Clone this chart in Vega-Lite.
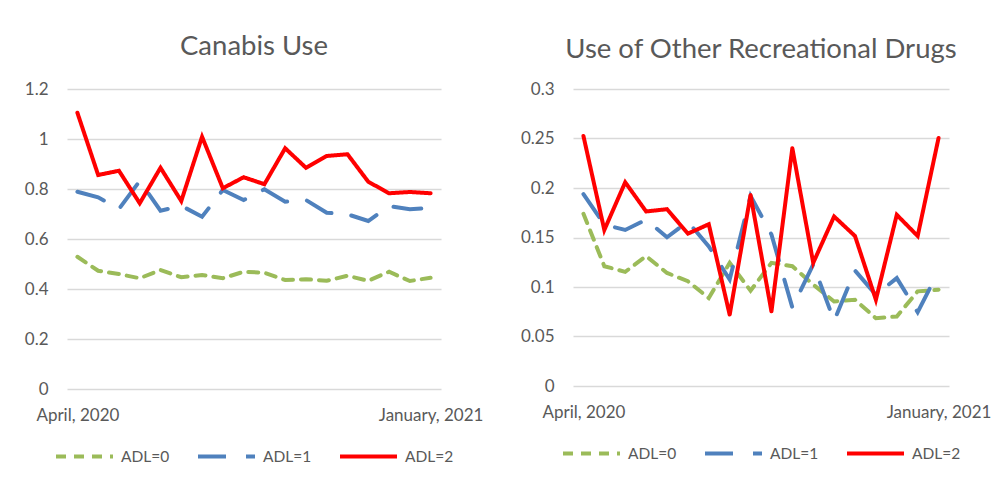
{
  "$schema": "https://vega.github.io/schema/vega-lite/v6.json",
  "background": "white",
  "padding": {"left": 24, "top": 32, "right": 5, "bottom": 0},
  "datasets": {
    "canabis": [
      {"wave": 1, "adl": "ADL=0", "value": 0.529}, {"wave": 2, "adl": "ADL=0", "value": 0.473}, {"wave": 3, "adl": "ADL=0", "value": 0.46}, {"wave": 4, "adl": "ADL=0", "value": 0.443}, {"wave": 5, "adl": "ADL=0", "value": 0.476}, {"wave": 6, "adl": "ADL=0", "value": 0.447}, {"wave": 7, "adl": "ADL=0", "value": 0.456}, {"wave": 8, "adl": "ADL=0", "value": 0.443}, {"wave": 9, "adl": "ADL=0", "value": 0.469}, {"wave": 10, "adl": "ADL=0", "value": 0.465}, {"wave": 11, "adl": "ADL=0", "value": 0.436}, {"wave": 12, "adl": "ADL=0", "value": 0.439}, {"wave": 13, "adl": "ADL=0", "value": 0.433}, {"wave": 14, "adl": "ADL=0", "value": 0.453}, {"wave": 15, "adl": "ADL=0", "value": 0.433}, {"wave": 16, "adl": "ADL=0", "value": 0.469}, {"wave": 17, "adl": "ADL=0", "value": 0.432}, {"wave": 18, "adl": "ADL=0", "value": 0.445},
      {"wave": 1, "adl": "ADL=1", "value": 0.789}, {"wave": 2, "adl": "ADL=1", "value": 0.767}, {"wave": 3, "adl": "ADL=1", "value": 0.72}, {"wave": 4, "adl": "ADL=1", "value": 0.832}, {"wave": 5, "adl": "ADL=1", "value": 0.713}, {"wave": 6, "adl": "ADL=1", "value": 0.733}, {"wave": 7, "adl": "ADL=1", "value": 0.689}, {"wave": 8, "adl": "ADL=1", "value": 0.796}, {"wave": 9, "adl": "ADL=1", "value": 0.756}, {"wave": 10, "adl": "ADL=1", "value": 0.799}, {"wave": 11, "adl": "ADL=1", "value": 0.749}, {"wave": 12, "adl": "ADL=1", "value": 0.756}, {"wave": 13, "adl": "ADL=1", "value": 0.705}, {"wave": 14, "adl": "ADL=1", "value": 0.699}, {"wave": 15, "adl": "ADL=1", "value": 0.672}, {"wave": 16, "adl": "ADL=1", "value": 0.732}, {"wave": 17, "adl": "ADL=1", "value": 0.719}, {"wave": 18, "adl": "ADL=1", "value": 0.724},
      {"wave": 1, "adl": "ADL=2", "value": 1.105}, {"wave": 2, "adl": "ADL=2", "value": 0.856}, {"wave": 3, "adl": "ADL=2", "value": 0.873}, {"wave": 4, "adl": "ADL=2", "value": 0.743}, {"wave": 5, "adl": "ADL=2", "value": 0.885}, {"wave": 6, "adl": "ADL=2", "value": 0.752}, {"wave": 7, "adl": "ADL=2", "value": 1.009}, {"wave": 8, "adl": "ADL=2", "value": 0.803}, {"wave": 9, "adl": "ADL=2", "value": 0.847}, {"wave": 10, "adl": "ADL=2", "value": 0.819}, {"wave": 11, "adl": "ADL=2", "value": 0.963}, {"wave": 12, "adl": "ADL=2", "value": 0.885}, {"wave": 13, "adl": "ADL=2", "value": 0.932}, {"wave": 14, "adl": "ADL=2", "value": 0.939}, {"wave": 15, "adl": "ADL=2", "value": 0.829}, {"wave": 16, "adl": "ADL=2", "value": 0.783}, {"wave": 17, "adl": "ADL=2", "value": 0.788}, {"wave": 18, "adl": "ADL=2", "value": 0.783}
    ],
    "other": [
      {"wave": 1, "adl": "ADL=0", "value": 0.174}, {"wave": 2, "adl": "ADL=0", "value": 0.121}, {"wave": 3, "adl": "ADL=0", "value": 0.1153}, {"wave": 4, "adl": "ADL=0", "value": 0.1312}, {"wave": 5, "adl": "ADL=0", "value": 0.1142}, {"wave": 6, "adl": "ADL=0", "value": 0.1058}, {"wave": 7, "adl": "ADL=0", "value": 0.0888}, {"wave": 8, "adl": "ADL=0", "value": 0.1244}, {"wave": 9, "adl": "ADL=0", "value": 0.0963}, {"wave": 10, "adl": "ADL=0", "value": 0.1244}, {"wave": 11, "adl": "ADL=0", "value": 0.121}, {"wave": 12, "adl": "ADL=0", "value": 0.1024}, {"wave": 13, "adl": "ADL=0", "value": 0.0854}, {"wave": 14, "adl": "ADL=0", "value": 0.0871}, {"wave": 15, "adl": "ADL=0", "value": 0.0685}, {"wave": 16, "adl": "ADL=0", "value": 0.0702}, {"wave": 17, "adl": "ADL=0", "value": 0.0956}, {"wave": 18, "adl": "ADL=0", "value": 0.0973},
      {"wave": 1, "adl": "ADL=1", "value": 0.1939}, {"wave": 2, "adl": "ADL=1", "value": 0.163}, {"wave": 3, "adl": "ADL=1", "value": 0.1576}, {"wave": 4, "adl": "ADL=1", "value": 0.168}, {"wave": 5, "adl": "ADL=1", "value": 0.1502}, {"wave": 6, "adl": "ADL=1", "value": 0.166}, {"wave": 7, "adl": "ADL=1", "value": 0.141}, {"wave": 8, "adl": "ADL=1", "value": 0.1075}, {"wave": 9, "adl": "ADL=1", "value": 0.192}, {"wave": 10, "adl": "ADL=1", "value": 0.153}, {"wave": 11, "adl": "ADL=1", "value": 0.0793}, {"wave": 12, "adl": "ADL=1", "value": 0.1227}, {"wave": 13, "adl": "ADL=1", "value": 0.0658}, {"wave": 14, "adl": "ADL=1", "value": 0.1166}, {"wave": 15, "adl": "ADL=1", "value": 0.0922}, {"wave": 16, "adl": "ADL=1", "value": 0.109}, {"wave": 17, "adl": "ADL=1", "value": 0.0746}, {"wave": 18, "adl": "ADL=1", "value": 0.116},
      {"wave": 1, "adl": "ADL=2", "value": 0.2525}, {"wave": 2, "adl": "ADL=2", "value": 0.1576}, {"wave": 3, "adl": "ADL=2", "value": 0.2058}, {"wave": 4, "adl": "ADL=2", "value": 0.1763}, {"wave": 5, "adl": "ADL=2", "value": 0.1786}, {"wave": 6, "adl": "ADL=2", "value": 0.1539}, {"wave": 7, "adl": "ADL=2", "value": 0.1634}, {"wave": 8, "adl": "ADL=2", "value": 0.0719}, {"wave": 9, "adl": "ADL=2", "value": 0.1929}, {"wave": 10, "adl": "ADL=2", "value": 0.0753}, {"wave": 11, "adl": "ADL=2", "value": 0.2403}, {"wave": 12, "adl": "ADL=2", "value": 0.1244}, {"wave": 13, "adl": "ADL=2", "value": 0.1712}, {"wave": 14, "adl": "ADL=2", "value": 0.1515}, {"wave": 15, "adl": "ADL=2", "value": 0.0871}, {"wave": 16, "adl": "ADL=2", "value": 0.1729}, {"wave": 17, "adl": "ADL=2", "value": 0.1515}, {"wave": 18, "adl": "ADL=2", "value": 0.2505}
    ]
  },
  "hconcat": [
    {
      "data": {"name": "canabis"},
      "title": {"text": "Canabis Use", "offset": 20},
      "width": 374,
      "height": 300,
      "mark": {"type": "line", "strokeWidth": 4, "strokeCap": "round"},
      "encoding": {
        "x": {"field": "wave", "type": "ordinal", "scale": {"type": "point", "padding": 0.5}, "sort": null,
              "axis": {"title": null, "labelAngle": 0, "grid": false, "labelPadding": 18,
                       "labelExpr": "datum.value == 1 ? 'April, 2020' : datum.value == 18 ? 'January, 2021' : ''"}},
        "y": {"field": "value", "type": "quantitative", "scale": {"domain": [0, 1.2], "nice": false},
              "axis": {"title": null, "values": [0, 0.2, 0.4, 0.6, 0.8, 1, 1.2], "format": "~g"}},
        "color": {"field": "adl", "type": "nominal", "scale": {"domain": ["ADL=0", "ADL=1", "ADL=2"], "range": ["#9BBB59", "#4F81BD", "#FF0000"]}, "legend": {"title": null}},
        "strokeDash": {"field": "adl", "type": "nominal", "scale": {"domain": ["ADL=0", "ADL=1", "ADL=2"], "range": [[10, 8], [28, 20], [1, 0]]}, "legend": {"title": null}}
      }
    },
    {
      "data": {"name": "other"},
      "title": {"text": "Use of Other Recreational Drugs", "offset": 17},
      "width": 376,
      "height": 297,
      "mark": {"type": "line", "strokeWidth": 4, "strokeCap": "round"},
      "encoding": {
        "x": {"field": "wave", "type": "ordinal", "scale": {"type": "point", "padding": 0.5}, "sort": null,
              "axis": {"title": null, "labelAngle": 0, "grid": false, "labelPadding": 18,
                       "labelExpr": "datum.value == 1 ? 'April, 2020' : datum.value == 18 ? 'January, 2021' : ''"}},
        "y": {"field": "value", "type": "quantitative", "scale": {"domain": [0, 0.3], "nice": false},
              "axis": {"title": null, "values": [0, 0.05, 0.1, 0.15, 0.2, 0.25, 0.3], "format": "~g"}},
        "color": {"field": "adl", "type": "nominal", "scale": {"domain": ["ADL=0", "ADL=1", "ADL=2"], "range": ["#9BBB59", "#4F81BD", "#FF0000"]}, "legend": {"title": null}},
        "strokeDash": {"field": "adl", "type": "nominal", "scale": {"domain": ["ADL=0", "ADL=1", "ADL=2"], "range": [[10, 8], [28, 20], [1, 0]]}, "legend": {"title": null}}
      }
    }
  ],
  "spacing": 37,
  "resolve": {
    "scale": {"x": "independent", "y": "independent", "color": "independent", "strokeDash": "independent"},
    "legend": {"color": "independent", "strokeDash": "independent"}
  },
  "config": {
    "font": "Lato",
    "view": {"stroke": null},
    "title": {"fontSize": 27.5, "fontWeight": "normal", "color": "#595959", "anchor": "middle", "font": "Lato"},
    "axis": {"labelFont": "Lato", "labelFontSize": 17, "labelColor": "#595959", "domain": false, "ticks": false, "gridColor": "#D9D9D9", "gridWidth": 1.5},
    "axisY": {"labelPadding": 19},
    "legend": {"orient": "bottom", "direction": "horizontal", "symbolType": "stroke", "symbolSize": 3249, "symbolStrokeWidth": 4,
               "labelFont": "Lato", "labelFontSize": 15.5, "labelColor": "#595959", "labelOffset": 6, "columnPadding": 20, "offset": 3,
               "layout": {"bottom": {"anchor": "middle"}}}
  }
}
